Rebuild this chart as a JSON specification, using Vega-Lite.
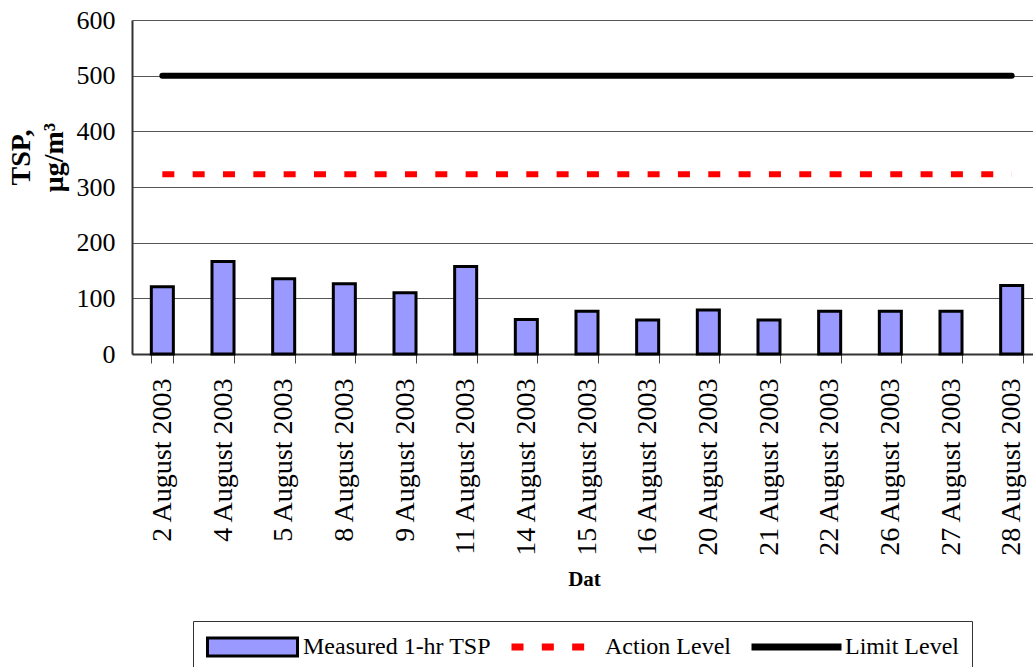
{
  "$schema": "https://vega.github.io/schema/vega-lite/v6.json",
  "width": 901,
  "height": 334,
  "autosize": "none",
  "padding": {"left": 132, "top": 20, "right": 0, "bottom": 313},
  "background": "white",
  "config": {"font": "Liberation Serif", "view": {"stroke": null}},
  "data": {
    "values": [
      {"date": "2 August 2003", "tsp": 121, "action": 323, "limit": 500},
      {"date": "4 August 2003", "tsp": 166, "action": 323, "limit": 500},
      {"date": "5 August 2003", "tsp": 135, "action": 323, "limit": 500},
      {"date": "8 August 2003", "tsp": 126, "action": 323, "limit": 500},
      {"date": "9 August 2003", "tsp": 110, "action": 323, "limit": 500},
      {"date": "11 August 2003", "tsp": 157, "action": 323, "limit": 500},
      {"date": "14 August 2003", "tsp": 62, "action": 323, "limit": 500},
      {"date": "15 August 2003", "tsp": 77, "action": 323, "limit": 500},
      {"date": "16 August 2003", "tsp": 61, "action": 323, "limit": 500},
      {"date": "20 August 2003", "tsp": 79, "action": 323, "limit": 500},
      {"date": "21 August 2003", "tsp": 61, "action": 323, "limit": 500},
      {"date": "22 August 2003", "tsp": 77, "action": 323, "limit": 500},
      {"date": "26 August 2003", "tsp": 77, "action": 323, "limit": 500},
      {"date": "27 August 2003", "tsp": 77, "action": 323, "limit": 500},
      {"date": "28 August 2003", "tsp": 123, "action": 323, "limit": 500}
    ]
  },
  "encoding": {
    "x": {
      "field": "date",
      "type": "nominal",
      "sort": null,
      "scale": {"range": [0, 910], "paddingInner": 0.637, "paddingOuter": 0.3185},
      "axis": {
        "title": "Dat",
        "titleFont": "Liberation Serif",
        "titleFontSize": 21,
        "titleFontWeight": "bold",
        "titleColor": "black",
        "titleX": 452,
        "titleY": 231,
        "titleAlign": "center",
        "titleBaseline": "alphabetic",
        "labelAngle": -90,
        "labelFont": "Liberation Serif",
        "labelFontSize": 28,
        "labelColor": "black",
        "labelPadding": 15,
        "labelLimit": 400,
        "tickBand": "extent",
        "tickSize": 9,
        "tickColor": "#444444",
        "tickWidth": 1,
        "domainColor": "#333333",
        "domainWidth": 2,
        "grid": false
      }
    }
  },
  "layer": [
    {
      "mark": {"type": "bar", "stroke": "black", "strokeWidth": 3},
      "encoding": {
        "y": {
          "field": "tsp",
          "type": "quantitative",
          "scale": {"domain": [0, 600], "nice": false},
          "axis": {
            "title": ["TSP,", "μg/m³"],
            "titleFont": "Liberation Serif",
            "titleFontSize": 28,
            "titleFontWeight": "bold",
            "titleColor": "black",
            "titleAngle": 270,
            "titleX": -111,
            "titleY": 137,
            "titleAlign": "center",
            "titleBaseline": "middle",
            "titleLineHeight": 33,
            "values": [0, 100, 200, 300, 400, 500, 600],
            "labelFont": "Liberation Serif",
            "labelFontSize": 26,
            "labelColor": "black",
            "labelPadding": 17,
            "ticks": false,
            "tickSize": 0,
            "domainColor": "#333333",
            "domainWidth": 2,
            "grid": true,
            "gridColor": "#555555",
            "gridWidth": 1
          }
        },
        "fill": {
          "datum": "Measured 1-hr TSP",
          "type": "nominal",
          "scale": {"domain": ["Measured 1-hr TSP"], "range": ["#9999ff"]},
          "legend": {
            "orient": "none",
            "legendX": 61,
            "legendY": 601,
            "title": null,
            "padding": 13,
            "labelExpr": "''",
            "labelFont": "Liberation Serif",
            "labelFontSize": 24,
            "labelOffset": 0,
            "symbolType": "M-1,-0.2L1,-0.2L1,0.2L-1,0.2Z",
            "symbolSize": 8100,
            "symbolStrokeColor": "black",
            "symbolStrokeWidth": 3,
            "symbolOpacity": 1,
            "clipHeight": 26
          }
        }
      }
    },
    {
      "mark": {"type": "line", "strokeWidth": 6, "strokeCap": "butt"},
      "encoding": {
        "y": {"field": "action", "type": "quantitative"},
        "stroke": {
          "datum": "Action Level",
          "type": "nominal",
          "scale": {
            "domain": ["Measured 1-hr TSP", "Action Level", "Limit Level"],
            "range": ["transparent", "#ff0000", "#000000"]
          },
          "legend": {
            "orient": "none",
            "legendX": 61,
            "legendY": 601,
            "direction": "horizontal",
            "columns": 3,
            "title": null,
            "padding": 13,
            "strokeColor": "#333333",
            "labelFont": "Liberation Serif",
            "labelFontSize": 24,
            "labelColor": "black",
            "labelOffset": 0,
            "labelLimit": 400,
            "columnPadding": 17,
            "symbolType": "stroke",
            "symbolSize": 8100,
            "symbolStrokeWidth": 7,
            "symbolOpacity": 1,
            "clipHeight": 26
          }
        },
        "strokeDash": {
          "datum": "Action Level",
          "type": "nominal",
          "scale": {
            "domain": ["Measured 1-hr TSP", "Action Level", "Limit Level"],
            "range": [[1, 0], [12, 18.33], [1, 0]]
          }
        }
      }
    },
    {
      "mark": {"type": "line", "strokeWidth": 6, "strokeCap": "round"},
      "encoding": {
        "y": {"field": "limit", "type": "quantitative"},
        "stroke": {"datum": "Limit Level", "type": "nominal"},
        "strokeDash": {"datum": "Limit Level", "type": "nominal"}
      }
    }
  ]
}
